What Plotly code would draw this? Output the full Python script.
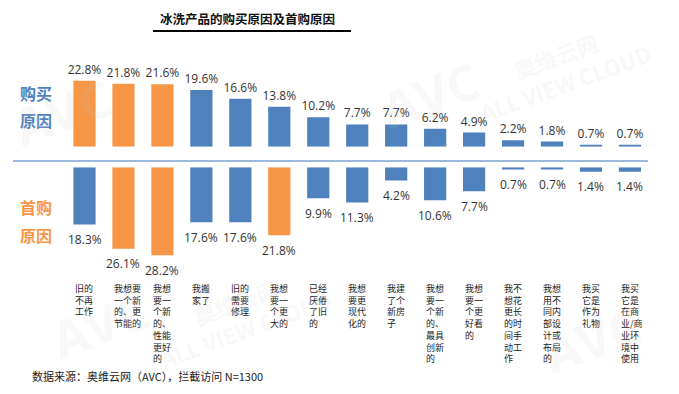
import plotly.graph_objects as go

categories = [
    "旧的<br>不再<br>工作",
    "我想要<br>一个新<br>的、更<br>节能的",
    "我想<br>要一<br>个新<br>的、<br>性能<br>更好<br>的",
    "我搬<br>家了",
    "旧的<br>需要<br>修理",
    "我想<br>要一<br>个更<br>大的",
    "已经<br>厌倦<br>了旧<br>的",
    "我想<br>要更<br>现代<br>化的",
    "我建<br>了个<br>新房<br>子",
    "我想<br>要一<br>个新<br>的、<br>最具<br>创新<br>的",
    "我想<br>要一<br>个更<br>好看<br>的",
    "我不<br>想花<br>更长<br>的时<br>间手<br>动工<br>作",
    "我想<br>用不<br>同内<br>部设<br>计或<br>布局<br>的",
    "我买<br>它是<br>作为<br>礼物",
    "我买<br>它是<br>在商<br>业/商<br>业环<br>境中<br>使用",
]
purchase = [22.8, 21.8, 21.6, 19.6, 16.6, 13.8, 10.2, 7.7, 7.7, 6.2, 4.9, 2.2, 1.8, 0.7, 0.7]
first_purchase = [18.3, 26.1, 28.2, 17.6, 17.6, 21.8, 9.9, 11.3, 4.2, 10.6, 7.7, 0.7, 0.7, 1.4, 1.4]
purchase_hi = [0, 1, 2]
first_hi = [1, 2, 5]

BLUE = "#4F81BD"
ORANGE = "#F79646"
W, H = 679, 394
xs = list(range(len(categories)))

def colors(hi):
    return [ORANGE if i in hi else BLUE for i in xs]

fig = go.Figure()
fig.add_trace(go.Bar(
    x=xs, y=purchase, marker_color=colors(purchase_hi), marker_line_width=0,
    text=[f"{v}%" for v in purchase], textposition="outside", cliponaxis=False,
    constraintext="none", hoverinfo="skip",
    textfont=dict(size=12, color="#333333", family="Open Sans"),
    xaxis="x", yaxis="y", width=0.57,
))
fig.add_trace(go.Bar(
    x=xs, y=first_purchase, marker_color=colors(first_hi), marker_line_width=0,
    hoverinfo="skip", xaxis="x", yaxis="y2", width=0.57,
))

px_per_unit = 38.96
x0 = 84.5
xr = [-x0 / px_per_unit, (W - x0) / px_per_unit]

top_base = 146.7
top_scale = 2.89
bot_start = 167.3
bot_scale = 3.12

def py(p):
    return 1 - p / H

def pxx(p):
    return p / W

annotations = []
# bottom value labels
for i, v in enumerate(first_purchase):
    annotations.append(dict(
        x=i, y=v, xref="x", yref="y2", text=f"{v}%", showarrow=False,
        xanchor="center", yanchor="middle", yshift=-15,
        font=dict(size=12, color="#333333", family="Open Sans"),
    ))
# category labels
for i, c in enumerate(categories):
    annotations.append(dict(
        x=i - 0.285, y=py(280), xref="x", yref="paper", text=c,
        xanchor="left", yanchor="top", align="left", showarrow=False,
        font=dict(size=9, color="#222222", family="Noto Sans CJK SC"),
    ))

# Side labels
for txt, yy, col in [("购买", 93, BLUE), ("原因", 120, BLUE), ("首购", 207, ORANGE), ("原因", 235, ORANGE)]:
    annotations.append(dict(x=pxx(36), y=py(yy), xref="paper", yref="paper", text=f"<b>{txt}</b>",
                            xanchor="center", yanchor="middle", showarrow=False,
                            font=dict(size=16, color=col, family="Noto Sans CJK SC")))
annotations += [
    dict(x=pxx(247), y=py(18), xref="paper", yref="paper", text="<b>冰洗产品的购买原因及首购原因</b>",
         xanchor="center", yanchor="middle", showarrow=False,
         font=dict(size=12.5, color="#111111", family="Noto Sans CJK SC")),
    dict(x=pxx(30), y=py(376), xref="paper", yref="paper", xanchor="left", yanchor="middle",
         text="数据来源：奥维云网（AVC），拦截访问 N=1300",
         showarrow=False, font=dict(size=11, color="#222222", family="Noto Sans CJK SC")),
]

# Faint watermarks
wm = dict(showarrow=False, xref="paper", yref="paper", textangle=-20, xanchor="center", yanchor="middle")
for (wx, wy, txt, sz) in [
    (560, 70, "<b>奥维云网</b><br><b>ALL VIEW CLOUD</b>", 22),
    (240, 315, "<b>奥维云网</b><br><b>ALL VIEW CLOUD</b>", 22),
]:
    annotations.append(dict(wm, x=pxx(wx), y=py(wy), text=txt,
                            font=dict(size=sz, color="rgba(200,200,200,0.15)", family="Noto Sans CJK SC")))
for (wx, wy) in [(430, 95), (62, 112), (100, 325), (592, 340)]:
    annotations.append(dict(wm, x=pxx(wx), y=py(wy), text="<b>AVC</b>",
                            font=dict(size=50, color="rgba(200,200,200,0.13)", family="Open Sans")))

shapes = [
    dict(type="line", xref="paper", yref="paper", x0=pxx(13), x1=pxx(648),
         y0=py(161), y1=py(161), line=dict(color="#9DB9DE", width=2)),
    dict(type="line", xref="paper", yref="paper", x0=pxx(153), x1=pxx(351),
         y0=py(31), y1=py(31), line=dict(color="#000000", width=2)),
]

fig.update_layout(
    width=W, height=H, margin=dict(l=0, r=0, t=0, b=0),
    paper_bgcolor="white", plot_bgcolor="rgba(0,0,0,0)",
    showlegend=False, bargap=0.43, hovermode=False,
    xaxis=dict(range=xr, domain=[0, 1], visible=False, anchor="y2", fixedrange=True),
    yaxis=dict(domain=[py(top_base), 1], range=[0, top_base / top_scale], visible=False, fixedrange=True),
    yaxis2=dict(domain=[0, py(bot_start)], range=[(H - bot_start) / bot_scale, 0], visible=False, fixedrange=True),
    annotations=annotations, shapes=shapes,
)

fig.write_html("out.html", config={"displayModeBar": False},
               post_script="document.body.style.margin='0';")
